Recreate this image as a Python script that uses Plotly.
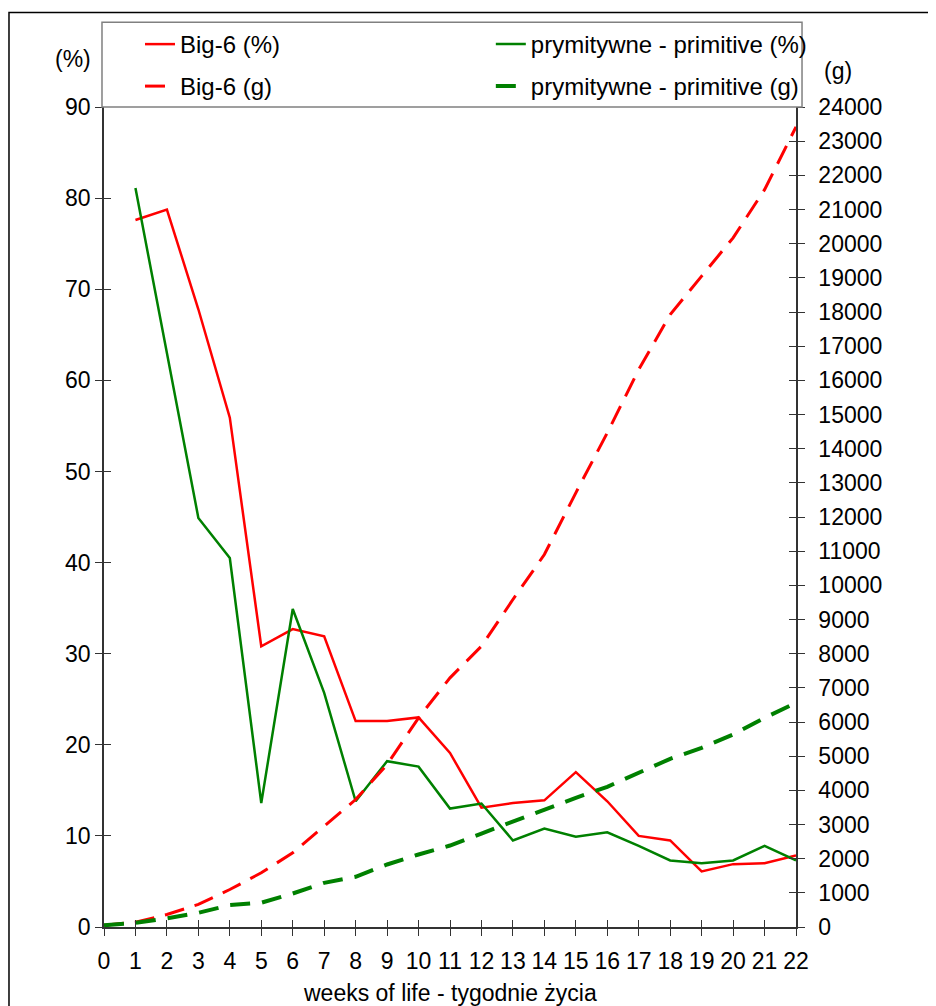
import plotly.graph_objects as go

weeks_pct = list(range(1, 23))
weeks_g = list(range(0, 23))

big6_pct = [77.6, 78.75, 67.8, 55.9, 30.8, 32.7, 31.9, 22.6, 22.6, 23.0, 19.1,
            13.1, 13.6, 13.9, 17.0, 13.8, 10.0, 9.5, 6.1, 6.9, 7.0, 7.85]
prim_pct = [81.1, 63.0, 44.9, 40.5, 13.6, 34.9, 25.7, 13.8, 18.2, 17.6, 13.0,
            13.55, 9.5, 10.8, 9.9, 10.4, 8.9, 7.3, 7.0, 7.3, 8.9, 7.3]
big6_g = [50, 140, 366, 660, 1097, 1586, 2171, 2950, 3731, 4756, 6122, 7293,
          8218, 9585, 10901, 12707, 14463, 16315, 17925, 19050, 20170, 21580, 23420]
prim_g = [50, 123, 250, 415, 640, 710, 980, 1293, 1470, 1830, 2122, 2385,
          2736, 3088, 3459, 3781, 4103, 4513, 4922, 5244, 5634, 6122, 6560]

names = ["Big-6 (%)", "prymitywne - primitive (%)", "Big-6 (g)", "prymitywne - primitive (g)"]
x_ticks = list(range(0, 23))

RED = "#FF0000"
GREEN = "#008000"
FONT = "Liberation Sans, Arial, sans-serif"
FS = 24
TFS = 23
AX = "#333333"

fig = go.Figure()
fig.add_trace(go.Scatter(x=weeks_pct, y=big6_pct, name=names[0], mode="lines",
                         line=dict(color=RED, width=2.5), legend="legend"))
fig.add_trace(go.Scatter(x=weeks_pct, y=prim_pct, name=names[1], mode="lines",
                         line=dict(color=GREEN, width=2.5), legend="legend2"))
fig.add_trace(go.Scatter(x=weeks_g, y=big6_g, name=names[2], mode="lines", yaxis="y2",
                         line=dict(color=RED, width=3, dash="20px,11px"), legend="legend3"))
fig.add_trace(go.Scatter(x=weeks_g, y=prim_g, name=names[3], mode="lines", yaxis="y2",
                         line=dict(color=GREEN, width=4, dash="20px,12px"), legend="legend4"))
# empty helper traces so the inside-tick overlay axes exist
fig.add_trace(go.Scatter(x=[], y=[], xaxis="x2", yaxis="y3", showlegend=False, hoverinfo="skip"))
fig.add_trace(go.Scatter(x=[], y=[], xaxis="x2", yaxis="y4", showlegend=False, hoverinfo="skip"))

tickstyle = dict(ticklen=7, tickwidth=1.3, tickcolor=AX)

legend_common = dict(font=dict(family=FONT, size=FS, color="black"), bgcolor="rgba(0,0,0,0)",
                     borderwidth=0, xanchor="left", yanchor="middle", itemclick=False)

fig.update_layout(
    width=936, height=1006,
    showlegend=True,
    margin=dict(l=96, r=148, t=99, b=87, autoexpand=False),
    paper_bgcolor="white", plot_bgcolor="white",
    font=dict(family=FONT, size=FS, color="black"),
    xaxis=dict(range=[0, 22], tickmode="array", tickvals=x_ticks, ticks="outside",
               showline=True, linecolor=AX, linewidth=1.5, showgrid=False, zeroline=False,
               tickfont=dict(size=TFS), ticklabelstandoff=6, **tickstyle),
    xaxis2=dict(range=[0, 22], overlaying="x", anchor="y", side="bottom", tickmode="array",
                tickvals=x_ticks, ticks="inside", showticklabels=False, showline=False,
                showgrid=False, zeroline=False, **tickstyle),
    yaxis=dict(range=[0, 90], dtick=10, tick0=0, ticks="outside", showline=True,
               linecolor=AX, linewidth=1.5, showgrid=False, zeroline=False,
               tickfont=dict(size=TFS), ticklabelstandoff=0, **tickstyle),
    yaxis2=dict(range=[0, 24000], dtick=1000, tick0=0, overlaying="y", side="right",
                anchor="x", ticks="outside", showline=True, linecolor=AX, linewidth=1.5,
                showgrid=False, zeroline=False, tickfont=dict(size=TFS), ticklabelstandoff=9,
                tickformat="d", **tickstyle),
    yaxis3=dict(range=[0, 90], dtick=10, tick0=0, overlaying="y", side="left", anchor="x",
                ticks="inside", showticklabels=False, showline=False, showgrid=False,
                zeroline=False, **tickstyle),
    yaxis4=dict(range=[0, 24000], dtick=1000, tick0=0, overlaying="y", side="right",
                anchor="x", ticks="inside", showticklabels=False, showline=False,
                showgrid=False, zeroline=False, **tickstyle),
    legend=dict(x=0.052, y=1.0762, **legend_common),
    legend2=dict(x=0.559, y=1.0762, **legend_common),
    legend3=dict(x=0.052, y=1.025, **legend_common),
    legend4=dict(x=0.559, y=1.025, **legend_common),
    shapes=[
        dict(type="rect", xref="paper", yref="paper", x0=-0.1373, x1=1.4, y0=-0.3, y1=1.1152,
             line=dict(color="black", width=1.5), fillcolor="rgba(0,0,0,0)", layer="below"),
        dict(type="rect", xref="paper", yref="paper", x0=-0.0029, x1=1.0087, y0=1.0, y1=1.1034,
             line=dict(color="#808080", width=1.5), fillcolor="rgba(0,0,0,0)", layer="above"),
    ],
    annotations=[
        dict(text="(%)", xref="paper", yref="paper", x=-0.0448, y=1.058, showarrow=False,
             xanchor="center", yanchor="middle", font=dict(size=TFS)),
        dict(text="(g)", xref="paper", yref="paper", x=1.0607, y=1.0433, showarrow=False,
             xanchor="center", yanchor="middle", font=dict(size=TFS)),
        dict(text="weeks of life - tygodnie życia", xref="paper", yref="paper", x=0.5,
             y=-0.0799, showarrow=False, xanchor="center", yanchor="middle",
             font=dict(size=TFS)),
    ],
)

fig.write_html("out.html")
